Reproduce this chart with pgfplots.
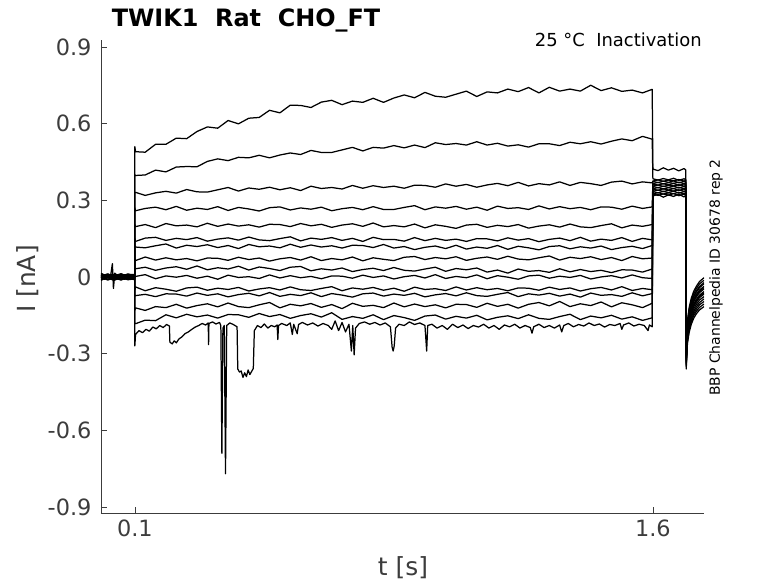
\documentclass[border=0pt]{standalone}
\usepackage{pgfplots}
\pgfplotsset{compat=1.18}
\usepackage{pgfplotstable}
\usepackage{fontspec}
\setmainfont{DejaVu Sans}
\definecolor{axgray}{RGB}{60,60,60}
\pgfplotsset{trace/.style={black, line width=1.25pt, line join=round, mark=none}}

\pgfplotstableread{
t c1 c2 c3 c4 c5 c6 c7 c8 c9 c10 c11 c12 c13 c14
0.002 .008 -.006 .012 -.004 .000 -.013 .014 .001 .007 -.003 -.011 .004 -.001 .003
0.012 .002 .001 .006 -.009 .005 -.007 .008 -.005 .001 .003 -.005 .009 -.007 -.002
0.022 .009 -.004 .011 -.002 -.002 -.012 .012 .002 .006 -.004 -.010 .003 -.002 .004
0.030 .003 -.001 .005 -.008 .004 -.008 .007 -.004 .002 .006 -.006 .008 -.006 -.003
0.035 .006 -.005 .010 -.005 .001 -.011 .011 .000 .005 .052 -.009 .005 -.003 .002
0.038 .004 -.002 .007 -.007 .003 -.009 .009 -.003 .003 -.045 -.007 .007 -.005 -.001
0.042 .007 -.004 .009 -.004 .000 -.012 .012 .001 .006 .015 -.010 .004 -.002 .003
0.050 .003 -.002 .006 -.008 .004 -.008 .008 -.004 .002 -.002 -.006 .008 -.006 -.001
0.060 .008 -.005 .011 -.003 .001 -.012 .013 .000 .007 .003 -.011 .005 -.002 .004
0.070 .002 -.001 .005 -.009 .004 -.007 .007 -.005 .001 -.003 -.005 .009 -.007 -.002
0.080 .007 -.004 .010 -.005 .000 -.011 .012 .002 .005 .002 -.009 .004 -.003 .003
0.090 .004 -.002 .007 -.007 .003 -.009 .009 -.003 .003 -.001 -.007 .007 -.005 .000
0.0995 .005 -.003 .008 -.006 .002 -.010 .010 -.002 .004 .000 -.008 .006 -.004 .001
0.100 .510 .400 .330 .270 .205 .150 .122 .070 .035 .000 -.050 -.075 -.130 -.180
0.102 .490 .397 .331 .259 .197 .139 .117 .064 .032 .002 -.039 -.073 -.121 -.183
0.13 .488 .399 .319 .268 .205 .152 .114 .078 .038 .009 -.054 -.068 -.131 -.169
0.16 .519 .418 .329 .273 .193 .155 .122 .066 .026 -.007 -.042 -.077 -.116 -.171
0.19 .519 .411 .335 .263 .209 .143 .129 .075 .035 .004 -.048 -.066 -.120 -.148
0.22 .543 .430 .328 .276 .200 .151 .113 .067 .040 -.001 -.056 -.067 -.107 -.160
0.25 .541 .432 .342 .261 .203 .146 .124 .072 .030 .006 -.043 -.075 -.122 -.146
0.28 .569 .431 .333 .269 .196 .154 .119 .063 .043 -.005 -.040 -.063 -.112 -.156
0.31 .587 .452 .332 .264 .210 .140 .126 .074 .028 .003 -.052 -.072 -.105 -.149
0.34 .582 .462 .341 .275 .198 .148 .115 .073 .036 -.009 -.044 -.066 -.117 -.161
0.37 .612 .455 .350 .260 .207 .153 .123 .065 .031 .007 -.049 -.078 -.102 -.147
0.40 .599 .468 .336 .272 .199 .144 .111 .077 .042 -.002 -.041 -.069 -.116 -.148
0.43 .621 .466 .348 .266 .204 .156 .127 .068 .027 .001 -.055 -.064 -.120 -.158
0.46 .624 .476 .343 .258 .195 .145 .118 .074 .039 -.006 -.047 -.074 -.109 -.143
0.49 .652 .466 .351 .271 .206 .142 .121 .062 .033 .008 -.042 -.061 -.100 -.155
0.52 .642 .477 .341 .274 .205 .150 .114 .071 .025 -.004 -.051 -.076 -.121 -.147
0.55 .672 .485 .349 .262 .197 .157 .128 .076 .038 .005 -.039 -.068 -.107 -.162
0.58 .671 .479 .338 .270 .209 .141 .116 .066 .041 -.003 -.050 -.073 -.113 -.151
0.61 .663 .495 .355 .265 .200 .152 .125 .079 .024 .002 -.053 -.062 -.104 -.144
0.64 .684 .487 .346 .273 .206 .147 .117 .064 .032 -.007 -.045 -.077 -.119 -.157
0.67 .691 .487 .350 .259 .194 .154 .122 .072 .027 .004 -.038 -.065 -.108 -.140
0.70 .674 .497 .344 .267 .203 .143 .113 .067 .035 .003 -.054 -.071 -.124 -.166
0.73 .688 .507 .358 .272 .208 .151 .124 .078 .021 -.005 -.043 -.079 -.103 -.155
0.76 .683 .493 .347 .263 .198 .139 .123 .063 .029 .007 -.048 -.066 -.115 -.162
0.79 .699 .507 .357 .275 .211 .155 .115 .075 .034 -.002 -.041 -.063 -.111 -.148
0.82 .683 .504 .350 .264 .196 .146 .127 .069 .025 .004 -.052 -.075 -.120 -.167
0.85 .700 .514 .355 .264 .201 .147 .113 .064 .037 -.008 -.044 -.067 -.102 -.151
0.88 .712 .505 .347 .272 .196 .140 .119 .077 .026 .001 -.056 -.072 -.117 -.159
0.91 .701 .516 .359 .279 .207 .154 .107 .080 .023 .006 -.040 -.064 -.106 -.170
0.94 .722 .506 .358 .263 .192 .142 .116 .068 .031 -.004 -.049 -.078 -.116 -.153
0.97 .707 .525 .351 .274 .204 .151 .121 .076 .038 .009 -.046 -.070 -.109 -.149
1.00 .703 .518 .364 .269 .198 .143 .111 .071 .022 -.006 -.053 -.065 -.121 -.165
1.03 .715 .522 .355 .276 .190 .148 .124 .079 .033 .002 -.039 -.074 -.107 -.154
1.06 .727 .516 .362 .265 .203 .139 .109 .065 .028 -.003 -.051 -.062 -.108 -.161
1.09 .706 .529 .351 .273 .206 .150 .117 .073 .035 .008 -.042 -.073 -.119 -.150
1.12 .724 .516 .360 .261 .194 .149 .112 .078 .019 -.007 -.050 -.076 -.103 -.168
1.15 .720 .523 .366 .277 .202 .141 .123 .069 .027 .005 -.045 -.068 -.115 -.158
1.18 .735 .512 .357 .268 .197 .153 .108 .081 .015 -.001 -.054 -.061 -.107 -.152
1.21 .725 .517 .370 .271 .205 .144 .120 .070 .031 -.009 -.043 -.077 -.122 -.163
1.24 .741 .508 .356 .264 .191 .150 .114 .067 .022 .004 -.044 -.066 -.107 -.148
1.27 .720 .521 .365 .278 .199 .138 .106 .075 .025 .007 -.052 -.071 -.100 -.162
1.30 .742 .521 .360 .266 .204 .147 .119 .082 .018 -.005 -.040 -.064 -.113 -.166
1.33 .727 .514 .372 .275 .195 .152 .122 .066 .032 .003 -.049 -.075 -.096 -.155
1.36 .735 .527 .358 .267 .207 .142 .110 .077 .020 -.002 -.043 -.067 -.116 -.146
1.39 .727 .521 .370 .272 .196 .155 .118 .072 .029 .006 -.055 -.079 -.105 -.167
1.42 .750 .529 .365 .263 .193 .140 .113 .079 .021 -.008 -.046 -.063 -.112 -.153
1.45 .729 .520 .358 .274 .201 .148 .121 .068 .026 .000 -.041 -.072 -.098 -.160
1.48 .740 .531 .371 .273 .208 .143 .107 .076 .017 .005 -.051 -.069 -.117 -.150
1.51 .726 .540 .375 .265 .192 .154 .115 .064 .028 -.004 -.038 -.076 -.101 -.165
1.54 .731 .533 .364 .277 .203 .139 .120 .080 .027 .008 -.053 -.062 -.109 -.156
1.57 .720 .550 .372 .268 .198 .151 .111 .071 .019 -.003 -.045 -.074 -.120 -.170
1.598 .734 .539 .368 .274 .205 .145 .123 .074 .031 -.006 -.050 -.065 -.103 -.160
1.600 .422 .384 .375 .374 .365 .364 .355 .354 .345 .344 .335 .334 .325 .324
1.615 .416 .379 .380 .369 .370 .359 .360 .349 .350 .339 .340 .329 .330 .319
1.630 .427 .385 .374 .375 .364 .365 .354 .355 .344 .345 .334 .335 .324 .325
1.645 .418 .380 .379 .370 .369 .360 .359 .350 .349 .340 .339 .330 .329 .320
1.660 .425 .386 .376 .376 .366 .366 .356 .356 .346 .346 .336 .336 .326 .326
1.675 .415 .378 .381 .368 .371 .358 .361 .348 .351 .338 .341 .328 .331 .318
1.690 .424 .384 .375 .374 .365 .364 .355 .354 .345 .344 .335 .334 .325 .324
1.695 .419 .381 .378 .371 .368 .361 .358 .351 .348 .341 .338 .331 .328 .321
1.6965 -.360 -.350 -.345 -.340 -.335 -.330 -.325 -.320 -.315 -.310 -.305 -.300 -.295 -.290
1.700 -.261 -.251 -.244 -.237 -.231 -.224 -.219 -.214 -.207 -.202 -.197 -.190 -.185 -.178
1.705 -.217 -.207 -.199 -.192 -.184 -.176 -.171 -.166 -.158 -.153 -.148 -.140 -.136 -.128
1.711 -.186 -.176 -.167 -.159 -.151 -.142 -.137 -.132 -.124 -.119 -.114 -.106 -.101 -.092
1.718 -.162 -.152 -.144 -.135 -.126 -.117 -.112 -.107 -.098 -.093 -.088 -.080 -.075 -.066
1.726 -.144 -.134 -.125 -.116 -.107 -.098 -.093 -.088 -.078 -.073 -.068 -.059 -.054 -.045
1.735 -.129 -.119 -.109 -.100 -.090 -.081 -.076 -.071 -.061 -.056 -.051 -.042 -.037 -.027
1.748 -.116 -.106 -.096 -.086 -.077 -.067 -.062 -.057 -.047 -.042 -.037 -.027 -.022 -.013
}\traces

\begin{document}
\begin{tikzpicture}
\path[use as bounding box] (-101bp,-70bp) rectangle (677bp,513bp);
\begin{axis}[
  at={(0bp,0bp)}, anchor=south west, scale only axis,
  width=603bp, height=473bp,
  xmin=0.002, xmax=1.748, ymin=-0.9235, ymax=0.927,
  axis x line*=bottom, axis y line*=left,
  axis line style={color=axgray, line width=0.6pt},
  xtick={0.1,1.6}, xticklabels={0.1,1.6},
  ytick={-0.9,-0.6,-0.3,0,0.3,0.6,0.9},
  yticklabels={-0.9,-0.6,-0.3,0,0.3,0.6,0.9},
  tick align=inside, major tick length=6bp,
  tick style={color=axgray, line width=0.6pt},
  ticklabel style={font=\fontsize{22.5}{27}\selectfont, text=axgray},
  yticklabel style={xshift=-6bp},
  xticklabel style={yshift=-3bp},
]
\addplot[trace] table[x=t, y=c1] {\traces};
\addplot[trace] table[x=t, y=c2] {\traces};
\addplot[trace] table[x=t, y=c3] {\traces};
\addplot[trace] table[x=t, y=c4] {\traces};
\addplot[trace] table[x=t, y=c5] {\traces};
\addplot[trace] table[x=t, y=c6] {\traces};
\addplot[trace] table[x=t, y=c7] {\traces};
\addplot[trace] table[x=t, y=c8] {\traces};
\addplot[trace] table[x=t, y=c9] {\traces};
\addplot[trace] table[x=t, y=c10] {\traces};
\addplot[trace] table[x=t, y=c11] {\traces};
\addplot[trace] table[x=t, y=c12] {\traces};
\addplot[trace] table[x=t, y=c13] {\traces};
\addplot[trace] table[x=t, y=c14] {\traces};
\addplot[trace] coordinates {
(0.002,-.004)(0.015,.005)(0.03,-.007)(0.045,.004)(0.06,-.005)(0.075,.006)(0.09,-.003)(0.0995,.001)
(0.1,-.27)(0.102,-.225)(0.112,-.21)(0.122,-.218)(0.132,-.205)(0.142,-.212)(0.152,-.196)(0.162,-.203)
(0.172,-.19)(0.182,-.198)(0.192,-.186)(0.2,-.192)(0.2015,-.255)(0.208,-.262)(0.214,-.25)(0.22,-.258)
(0.228,-.242)(0.236,-.235)(0.245,-.222)(0.255,-.215)(0.265,-.205)(0.275,-.196)(0.285,-.19)(0.295,-.182)
(0.305,-.188)(0.3125,-.18)(0.3135,-.265)(0.3145,-.182)(0.325,-.176)(0.335,-.184)(0.345,-.178)
(0.349,-.19)(0.352,-.69)(0.355,-.20)(0.359,-.19)(0.3625,-.77)(0.366,-.19)(0.375,-.18)(0.385,-.186)
(0.396,-.195)(0.398,-.36)(0.403,-.372)(0.408,-.368)(0.413,-.393)(0.418,-.375)(0.423,-.39)(0.428,-.364)
(0.433,-.382)(0.438,-.37)(0.443,-.358)(0.446,-.21)(0.455,-.19)(0.465,-.198)(0.475,-.184)(0.485,-.2)
(0.495,-.19)(0.505,-.195)(0.512,-.188)(0.514,-.245)(0.516,-.19)(0.525,-.182)(0.54,-.19)(0.55,-.18)
(0.556,-.225)(0.56,-.185)(0.57,-.222)(0.574,-.186)(0.585,-.178)(0.6,-.188)(0.615,-.18)(0.63,-.192)
(0.645,-.182)(0.66,-.19)(0.67,-.205)(0.68,-.172)(0.69,-.21)(0.70,-.178)(0.71,-.215)(0.72,-.185)
(0.727,-.29)(0.731,-.19)(0.735,-.305)(0.739,-.2)(0.75,-.182)(0.765,-.176)(0.78,-.185)(0.795,-.178)
(0.81,-.188)(0.825,-.18)(0.84,-.195)(0.845,-.275)(0.848,-.29)(0.851,-.27)(0.855,-.2)(0.865,-.185)
(0.88,-.19)(0.895,-.176)(0.91,-.186)(0.925,-.18)(0.94,-.19)(0.945,-.29)(0.948,-.19)(0.96,-.185)
(0.975,-.2)(0.99,-.19)(1.005,-.205)(1.02,-.185)(1.035,-.198)(1.05,-.188)(1.065,-.202)(1.08,-.19)
(1.095,-.196)(1.11,-.185)(1.125,-.2)(1.14,-.19)(1.155,-.205)(1.17,-.188)(1.185,-.195)(1.2,-.185)
(1.215,-.2)(1.23,-.19)(1.245,-.198)(1.25,-.22)(1.255,-.195)(1.27,-.185)(1.285,-.198)(1.3,-.19)
(1.315,-.2)(1.33,-.188)(1.336,-.215)(1.342,-.19)(1.355,-.182)(1.37,-.195)(1.385,-.186)(1.4,-.192)
(1.415,-.18)(1.43,-.19)(1.445,-.184)(1.46,-.196)(1.475,-.186)(1.49,-.19)(1.505,-.182)(1.51,-.205)
(1.515,-.188)(1.53,-.18)(1.545,-.192)(1.56,-.185)(1.575,-.19)(1.586,-.21)(1.59,-.188)(1.598,-.195)
(1.6,.317)(1.615,.323)(1.63,.312)(1.645,.321)(1.66,.315)(1.675,.324)(1.69,.313)(1.695,.319)
(1.6965,-.285)(1.7,-.171)(1.705,-.12)(1.711,-.084)(1.718,-.057)(1.726,-.036)(1.735,-.018)(1.748,-.003)
};
\end{axis}
\node[font=\fontsize{24}{28}\selectfont\bfseries, anchor=base] at (145bp,486bp) {TWIK1\ \ Rat\ \ CHO\_FT};
\node[font=\fontsize{18}{22}\selectfont, anchor=base east, inner sep=0pt] at (601bp,466bp) {25 °C\ \ Inactivation};
\node[rotate=90, font=\fontsize{14}{17}\selectfont, inner sep=0pt] at (615bp,235.5bp) {BBP Channelpedia ID 30678 rep 2};
\node[rotate=90, font=\fontsize{25}{30}\selectfont, inner sep=0pt, text=axgray] at (-73bp,234bp) {I [nA]};
\node[font=\fontsize{25}{30}\selectfont, inner sep=0pt, text=axgray] at (302bp,-55bp) {t [s]};
\end{tikzpicture}
\end{document}
